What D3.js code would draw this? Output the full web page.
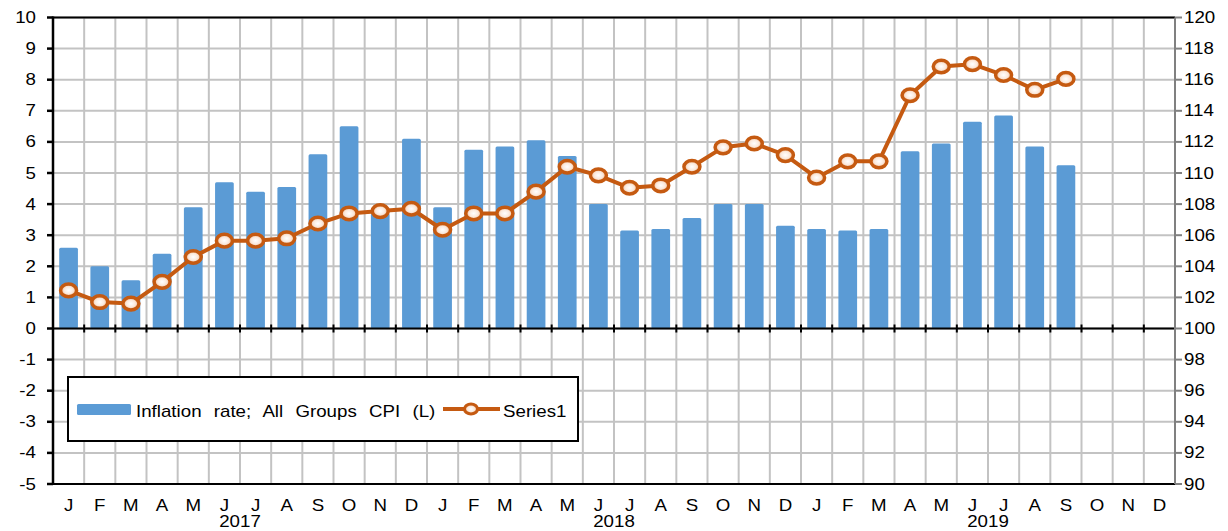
<!DOCTYPE html>
<html>
<head>
<meta charset="utf-8">
<script src="https://cdn.jsdelivr.net/npm/d3@7"></script>
<style>
  html, body { margin: 0; padding: 0; background: #fff; }
  text { font-family: "Liberation Sans", Arial, sans-serif; fill: #000; }
</style>
</head>
<body>
<svg id="chart" width="1228" height="531"></svg>
<script>
const months = ["J","F","M","A","M","J","J","A","S","O","N","D",
                "J","F","M","A","M","J","J","A","S","O","N","D",
                "J","F","M","A","M","J","J","A","S","O","N","D"];
const years = ["2017", "2018", "2019"];
const inflation = [2.6, 2.0, 1.55, 2.4, 3.9, 4.7, 4.4, 4.55, 5.6, 6.5, 3.7, 6.1,
                   3.9, 5.75, 5.85, 6.05, 5.55, 4.0, 3.15, 3.2, 3.55, 4.0, 4.0, 3.3,
                   3.2, 3.15, 3.2, 5.7, 5.95, 6.65, 6.85, 5.85, 5.25];
const series1 = [102.45, 101.7, 101.6, 103.0, 104.6, 105.65, 105.65, 105.8, 106.75, 107.4, 107.55, 107.7,
                 106.35, 107.4, 107.4, 108.8, 110.4, 109.85, 109.05, 109.2, 110.4, 111.65, 111.9, 111.15,
                 109.7, 110.75, 110.75, 115.0, 116.85, 117.0, 116.3, 115.35, 116.05];
const leftTicks = d3.range(-5, 11, 1);
const rightTicks = d3.range(90, 121, 2);
const legendLabels = ["Inflation rate; All Groups CPI (L)", "Series1"];

const svg = d3.select("#chart");
const L = 53, R = 1175, T = 17.5, B = 484;
const SX = 1.17; // horizontal text stretch

const idx = months.map((m, i) => i);
const x = d3.scaleBand().domain(idx).range([L, R]).paddingInner(0.4).paddingOuter(0.2);
const step = x.step();
const yL = d3.scaleLinear().domain([-5, 10]).range([B, T]);
const yR = d3.scaleLinear().domain([90, 120]).range([B, T]);
const boundary = i => L + i * step;
const center = i => x(i) + x.bandwidth() / 2;

function txt(g, str, px, py, anchor, size) {
  return g.append("text")
    .attr("transform", `translate(${px},${py}) scale(${SX},1)`)
    .attr("text-anchor", anchor)
    .style("font-size", (size || 16) + "px")
    .text(str);
}

// defs
const defs = svg.append("defs");
const grad = defs.append("radialGradient").attr("id", "mk");
grad.append("stop").attr("offset", "0%").attr("stop-color", "#ffffff");
grad.append("stop").attr("offset", "55%").attr("stop-color", "#fbe9dc");
grad.append("stop").attr("offset", "100%").attr("stop-color", "#f0b58a");

// gridlines
const grid = svg.append("g").attr("stroke", "#c3c3c3").attr("stroke-width", 2);
leftTicks.forEach(v => {
  grid.append("line").attr("x1", L).attr("x2", R).attr("y1", yL(v)).attr("y2", yL(v));
});
d3.range(1, months.length).forEach(i => {
  grid.append("line").attr("x1", boundary(i)).attr("x2", boundary(i)).attr("y1", T).attr("y2", B);
});

// bars
svg.append("g").selectAll("rect").data(inflation).join("rect")
  .attr("x", (d, i) => x(i))
  .attr("width", x.bandwidth())
  .attr("y", d => yL(d))
  .attr("height", d => yL(0) - yL(d))
  .attr("rx", 1.5)
  .attr("fill", "#5b9bd5");

// frame lines
svg.append("line").attr("x1", L).attr("x2", R).attr("y1", T).attr("y2", T)
  .attr("stroke", "#000").attr("stroke-width", 2);
svg.append("line").attr("x1", L).attr("x2", R).attr("y1", B).attr("y2", B)
  .attr("stroke", "#000").attr("stroke-width", 2);

// zero line with cross ticks
const zg = svg.append("g").attr("stroke", "#000").attr("stroke-width", 2);
zg.append("line").attr("x1", L).attr("x2", R).attr("y1", yL(0)).attr("y2", yL(0));
d3.range(1, months.length + 1).forEach(i => {
  zg.append("line").attr("x1", boundary(i)).attr("x2", boundary(i))
    .attr("y1", yL(0) - 4).attr("y2", yL(0) + 4);
});

// right axis (gray)
const rg = svg.append("g").attr("stroke", "#808080").attr("stroke-width", 2);
rg.append("line").attr("x1", R).attr("x2", R).attr("y1", T).attr("y2", B);
rightTicks.forEach(v => {
  rg.append("line").attr("x1", R).attr("x2", R + 7).attr("y1", yR(v)).attr("y2", yR(v));
});
const rl = svg.append("g");
rightTicks.forEach(v => txt(rl, String(v), 1184, yR(v) + 5.5, "start"));

// left axis
const lg = svg.append("g").attr("stroke", "#000").attr("stroke-width", 2.5);
lg.append("line").attr("x1", L).attr("x2", L).attr("y1", T - 1).attr("y2", B + 1);
leftTicks.forEach(v => {
  lg.append("line").attr("x1", L - 6).attr("x2", L).attr("y1", yL(v)).attr("y2", yL(v));
});
const ll = svg.append("g");
leftTicks.forEach(v => txt(ll, String(v), 36, yL(v) + 5.5, "end"));

// month / year labels
const ml = svg.append("g");
months.forEach((m, i) => txt(ml, m, center(i), 511, "middle"));
years.forEach((yv, k) => txt(ml, yv, boundary(6 + 12 * k), 527, "middle"));

// line series
const lineGen = d3.line().x((d, i) => center(i)).y(d => yR(d));
svg.append("path").datum(series1)
  .attr("d", lineGen)
  .attr("fill", "none")
  .attr("stroke", "#c55a11")
  .attr("stroke-width", 4)
  .attr("stroke-linejoin", "round");
svg.append("g").selectAll("ellipse").data(series1).join("ellipse")
  .attr("cx", (d, i) => center(i))
  .attr("cy", d => yR(d))
  .attr("rx", 8)
  .attr("ry", 6.3)
  .attr("fill", "url(#mk)")
  .attr("stroke", "#c55a11")
  .attr("stroke-width", 3.5);

// legend
const leg = svg.append("g");
leg.append("rect").attr("x", 68).attr("y", 377).attr("width", 510).attr("height", 64)
  .attr("fill", "#fff").attr("stroke", "#000").attr("stroke-width", 2);
leg.append("rect").attr("x", 77).attr("y", 404).attr("width", 54).attr("height", 11)
  .attr("rx", 1.5).attr("fill", "#5b9bd5");
txt(leg, legendLabels[0], 136, 417, "start").style("word-spacing", "6px");
leg.append("line").attr("x1", 443).attr("x2", 500).attr("y1", 409).attr("y2", 409)
  .attr("stroke", "#c55a11").attr("stroke-width", 4);
leg.append("ellipse").attr("cx", 471).attr("cy", 409).attr("rx", 6.5).attr("ry", 5)
  .attr("fill", "url(#mk)").attr("stroke", "#c55a11").attr("stroke-width", 3);
txt(leg, legendLabels[1], 503, 417, "start");
</script>
</body>
</html>
